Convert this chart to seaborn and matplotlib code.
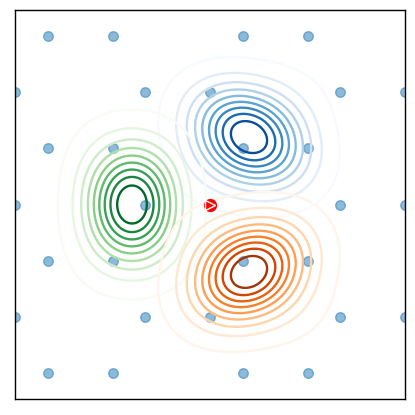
import numpy as np
import pandas as pd
import seaborn as sns
import matplotlib
matplotlib.use("Agg")
import matplotlib.pyplot as plt

# Honeycomb lattice points (x, y)
lattice_x = [-3, -1, 0, 2, 3,
             -2.5, -1.5, 0.5, 1.5,
             -2.5, -1.5, 0.5, 1.5,
             -3, -1, 0, 2, 3,
             -3, -1, 0, 2, 3,
             -2.5, -1.5, 0.5, 1.5,
             -2.5, -1.5, 0.5, 1.5]
lattice_y = [0.0, 0.0, 0.0, 0.0, 0.0,
             0.866, 0.866, 0.866, 0.866,
             -0.866, -0.866, -0.866, -0.866,
             1.732, 1.732, 1.732, 1.732, 1.732,
             -1.732, -1.732, -1.732, -1.732, -1.732,
             2.598, 2.598, 2.598, 2.598,
             -2.598, -2.598, -2.598, -2.598]

# Three density clusters
cluster_cx = [0.60, -1.20, 0.60]
cluster_cy = [1.04, 0.00, -1.04]
cluster_angle = [60, 180, 300]          # direction of radial axis (deg)
cluster_sigma_r = [0.44, 0.44, 0.44]    # radial spread
cluster_sigma_t = [0.565, 0.565, 0.565] # tangential spread
cluster_box_w = [0.3, 0.3, 0.3]         # weight of the squarish outer component
cluster_box_c = [2.1, 2.1, 2.1]         # its width relative to the marginal spread
cluster_box_p = [3.0, 3.0, 3.0]         # its squareness exponent
cluster_cmap = ["Blues", "Greens", "Oranges"]

iso_props = np.linspace(0.05, 1, 10)

fig = plt.figure(figsize=(4.15, 4.15), dpi=100)
ax = fig.add_axes([15/415, 16/415, 390/415, 389/415])

df = pd.DataFrame({"x": lattice_x, "y": lattice_y})
sns.scatterplot(data=df, x="x", y="y", ax=ax, s=48, color="#1f77b4",
                alpha=0.5, edgecolor="#1f77b4", linewidth=1.0, zorder=1)

gx = np.linspace(-3.2, 3.2, 400)
X, Y = np.meshgrid(gx, gx)
for cx, cy, ang, sr, st, bw, bc, bp, cm in zip(cluster_cx, cluster_cy, cluster_angle,
                                               cluster_sigma_r, cluster_sigma_t,
                                               cluster_box_w, cluster_box_c,
                                               cluster_box_p, cluster_cmap):
    th = np.deg2rad(ang)
    dx, dy = X - cx, Y - cy
    u = dx * np.cos(th) + dy * np.sin(th)
    v = -dx * np.sin(th) + dy * np.cos(th)
    core = np.exp(-0.5 * (u**2 / sr**2 + v**2 / st**2))
    core /= core.sum()
    mx = np.sqrt((sr * np.cos(th))**2 + (st * np.sin(th))**2)
    my = np.sqrt((sr * np.sin(th))**2 + (st * np.cos(th))**2)
    box = np.exp(-(np.abs(dx) / (bc * mx))**bp - (np.abs(dy) / (bc * my))**bp)
    box /= box.sum()
    Z = (1 - bw) * core + bw * box
    sv = np.sort(Z.ravel())[::-1]
    cum = np.cumsum(sv) / sv.sum()
    idx = np.searchsorted(cum, 1 - iso_props)
    levels = np.unique(np.take(sv, idx, mode="clip"))
    ax.contour(X, Y, Z, levels=levels, cmap=cm, linewidths=1.7, zorder=2)

ax.plot([0], [0], marker="o", color="red", ms=8.5, mec="red", zorder=3)
ax.plot([0], [0], marker=">", color="red", ms=6.5, mec="white", mew=1.0, zorder=4)

ax.set_xlim(-3, 3)
ax.set_ylim(-3, 3)
ax.set_xticks([])
ax.set_yticks([])
ax.set_xlabel("")
ax.set_ylabel("")
for sp in ax.spines.values():
    sp.set_color("black")
    sp.set_linewidth(1.0)

fig.savefig("out.png", dpi=100)
